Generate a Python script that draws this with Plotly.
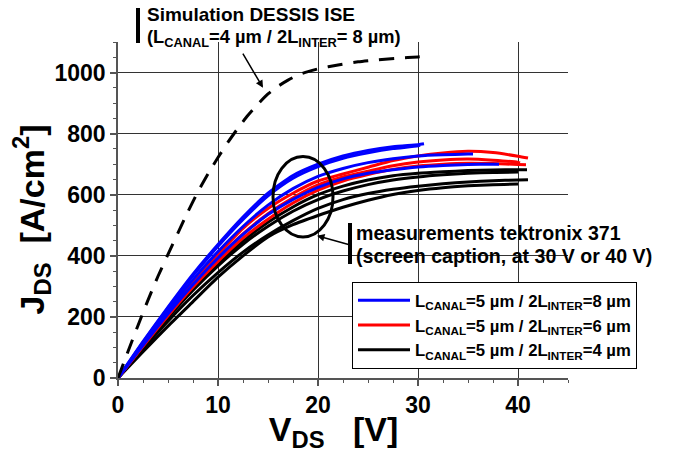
import plotly.graph_objects as go

FONT = "Liberation Sans, Arial, sans-serif"
NB = "\u00a0"
PAD = "<span style='color:rgba(0,0,0,0)'>" + NB * 2 + "</span>"

# ---------------- data ----------------
V_BASE = [0, 2.5, 5, 7.5, 10, 12.5, 15, 17.5, 20, 22.5, 25, 27.5, 30, 32.5, 35, 37.5, 40]

# simulation (dashed)
SIM_V = [0, 1, 2, 3, 4, 5, 6, 7, 8, 9, 10, 11, 12, 13, 14, 15, 16, 17, 18, 19, 20, 22, 24, 26, 28, 30, 31]
SIM_J = [0, 87, 172, 255, 333, 405, 475, 545, 610, 668, 722, 772, 818, 860, 897, 930, 955, 975, 992, 1003,
         1012, 1025, 1035, 1042, 1047, 1051, 1053]

# measurements, blue (2L_INTER = 8 um)
BLUE_1_V = V_BASE[:13] + [30.6]
BLUE_1_J = [0, 119, 232, 340, 437, 527, 605, 663, 700, 727, 745, 757, 764, 767]
BLUE_2_V = V_BASE[:13] + [30.2]
BLUE_2_J = [0, 117, 229, 335, 431, 519, 596, 654, 692, 719, 737, 751, 760, 763]
BLUE_3_V = V_BASE[:15] + [35.5]
BLUE_3_J = [0, 111, 220, 322, 414, 496, 566, 620, 660, 686, 705, 718, 727, 731, 733, 733]
BLUE_4_V = V_BASE[:16] + [38.1]
BLUE_4_J = [0, 107, 210, 306, 393, 470, 535, 585, 624, 652, 670, 682, 691, 696, 699, 700, 700]

# measurements, red (2L_INTER = 6 um)
RED_1_V = V_BASE + [41]
RED_1_J = [0, 109, 215, 315, 405, 490, 555, 605, 645, 668, 690, 712, 727, 737, 742, 738, 726, 720]
RED_2_V = V_BASE + [40.2]
RED_2_J = [0, 106, 209, 306, 393, 472, 538, 590, 632, 658, 677, 695, 707, 714, 717, 713, 706, 704]
RED_3_V = V_BASE + [40.8]
RED_3_J = [0, 104, 204, 298, 382, 458, 520, 573, 615, 645, 666, 683, 694, 700, 703, 702, 699, 698]

# measurements, black (2L_INTER = 4 um)
BLACK_1_V = V_BASE + [40.9]
BLACK_1_J = [0, 102, 200, 292, 375, 448, 510, 560, 600, 628, 648, 662, 670, 675, 679, 681, 682, 682]
BLACK_2_V = V_BASE
BLACK_2_J = [0, 100, 197, 287, 367, 438, 497, 546, 584, 612, 633, 648, 658, 665, 670, 673, 674]
BLACK_3_V = V_BASE + [41]
BLACK_3_J = [0, 95, 186, 270, 345, 412, 468, 515, 555, 584, 604, 618, 628, 636, 642, 646, 648, 649]
BLACK_4_V = V_BASE
BLACK_4_J = [0, 86, 170, 250, 330, 400, 462, 502, 532, 559, 582, 601, 614, 623, 629, 633, 635]

LEGEND_BLUE = "L<sub>CANAL</sub>=5 µm / 2L<sub>INTER</sub>=8 µm"
LEGEND_RED = "L<sub>CANAL</sub>=5 µm / 2L<sub>INTER</sub>=6 µm"
LEGEND_BLACK = "L<sub>CANAL</sub>=5 µm / 2L<sub>INTER</sub>=4 µm"

X_TICKS = [0, 10, 20, 30, 40]
Y_TICKS = [0, 200, 400, 600, 800, 1000]

# ---------------- figure ----------------
fig = go.Figure()

groups = [
    ("black", "#000000", LEGEND_BLACK, 3,
     [(BLACK_1_V, BLACK_1_J), (BLACK_2_V, BLACK_2_J), (BLACK_3_V, BLACK_3_J), (BLACK_4_V, BLACK_4_J)]),
    ("red", "#ff0000", LEGEND_RED, 2,
     [(RED_1_V, RED_1_J), (RED_2_V, RED_2_J), (RED_3_V, RED_3_J)]),
    ("blue", "#0000ff", LEGEND_BLUE, 1,
     [(BLUE_1_V, BLUE_1_J), (BLUE_2_V, BLUE_2_J), (BLUE_3_V, BLUE_3_J), (BLUE_4_V, BLUE_4_J)]),
]
for name, color, label, rank, curves in groups:
    for i, (vv, jj) in enumerate(curves):
        fig.add_trace(go.Scatter(
            x=vv, y=jj, mode="lines", name=label, legendgroup=name,
            legendrank=rank, showlegend=(i == 0),
            line=dict(color=color, width=3, shape="spline", smoothing=0.6),
        ))

fig.add_trace(go.Scatter(
    x=SIM_V, y=SIM_J, mode="lines", showlegend=False,
    line=dict(color="black", width=3, dash="15px,11px", shape="spline", smoothing=0.6),
))

# ellipse around measurement bundle
fig.add_shape(type="circle", xref="x", yref="y", x0=15.5, x1=21.5, y0=462, y1=725,
              line=dict(color="black", width=3))


def px_x(p):
    return (p - 118) / 450.0


def px_y(p):
    return (378 - p) / 336.0


# vertical bars beside annotations
fig.add_shape(type="line", xref="paper", yref="paper", x0=px_x(138), x1=px_x(138),
              y0=px_y(8), y1=px_y(43), line=dict(color="black", width=4))
fig.add_shape(type="line", xref="paper", yref="paper", x0=px_x(350), x1=px_x(350),
              y0=px_y(223), y1=px_y(264), line=dict(color="black", width=4))

afont = dict(family=FONT, size=19, color="black", weight="bold")
a2font = dict(family=FONT, size=18.3, color="black", weight="bold")
mfont = dict(family=FONT, size=19.6, color="black", weight="bold")
fig.add_annotation(xref="paper", yref="paper", x=px_x(145), y=px_y(14), xanchor="left",
                   yanchor="middle", text="Simulation DESSIS ISE", showarrow=False, font=afont)
fig.add_annotation(xref="paper", yref="paper", x=px_x(145), y=px_y(38), xanchor="left",
                   yanchor="middle", text="(L<sub>CANAL</sub>=4 µm / 2L<sub>INTER</sub>= 8 µm)",
                   showarrow=False, font=a2font)
fig.add_annotation(xref="paper", yref="paper", x=px_x(354), y=px_y(233), xanchor="left",
                   yanchor="middle", text="measurements tektronix 371", showarrow=False, font=mfont)
fig.add_annotation(xref="paper", yref="paper", x=px_x(354), y=px_y(256), xanchor="left",
                   yanchor="middle", text="(screen caption, at 30 V or 40 V)", showarrow=False, font=mfont)

# arrows
fig.add_annotation(x=14.5, y=950, ax=12.4, ay=1067, xref="x", yref="y", axref="x", ayref="y",
                   text="", showarrow=True, arrowhead=2, arrowsize=1, arrowwidth=1.5, arrowcolor="black")
fig.add_annotation(x=19.9, y=466, ax=23.2, ay=436, xref="x", yref="y", axref="x", ayref="y",
                   text="", showarrow=True, arrowhead=2, arrowsize=1, arrowwidth=1.5, arrowcolor="black")

tickfont = dict(family=FONT, size=23, color="black", weight="bold")
titlefont = dict(family=FONT, size=34, color="black", weight="bold")

fig.update_xaxes(
    range=[0, 45], tickvals=X_TICKS, ticks="outside", ticklen=6, tickwidth=1.5, tickcolor="#555",
    showline=True, linecolor="#555", linewidth=1.5, showgrid=True, gridcolor="#333", gridwidth=1,
    zeroline=False, tickfont=tickfont,
    minor=dict(dtick=2.5, tick0=0, ticks="outside", ticklen=3, tickcolor="#555", tickwidth=1, showgrid=False),
    title=dict(text="V<sub>DS</sub>" + NB * 3 + "[V]" + PAD, font=titlefont, standoff=0),
)
fig.update_yaxes(
    range=[0, 1100], tickvals=Y_TICKS, ticks="outside", ticklen=6, tickwidth=1.5, tickcolor="#555",
    showline=True, linecolor="#555", linewidth=1.5, showgrid=True, gridcolor="#333", gridwidth=1,
    zeroline=False, tickfont=tickfont,
    minor=dict(dtick=50, tick0=0, ticks="outside", ticklen=3, tickcolor="#555", tickwidth=1, showgrid=False),
    title=dict(text="J<sub>DS</sub>" + NB * 2 + "[A/cm<sup>2</sup>]" + PAD, font=titlefont, standoff=0),
)

fig.update_layout(
    width=680, height=453,
    margin=dict(l=118, r=112, t=42, b=75, autoexpand=False),
    paper_bgcolor="white", plot_bgcolor="white",
    showlegend=True,
    legend=dict(x=px_x(352), y=px_y(282), xanchor="left", yanchor="top",
                bgcolor="white", bordercolor="black", borderwidth=1,
                font=dict(family=FONT, size=16.7, color="black", weight="bold"),
                traceorder="grouped", tracegroupgap=0, itemwidth=52),
)

fig.write_html("out.html", config={"displayModeBar": False},
               post_script="document.body.style.margin='0px';")
